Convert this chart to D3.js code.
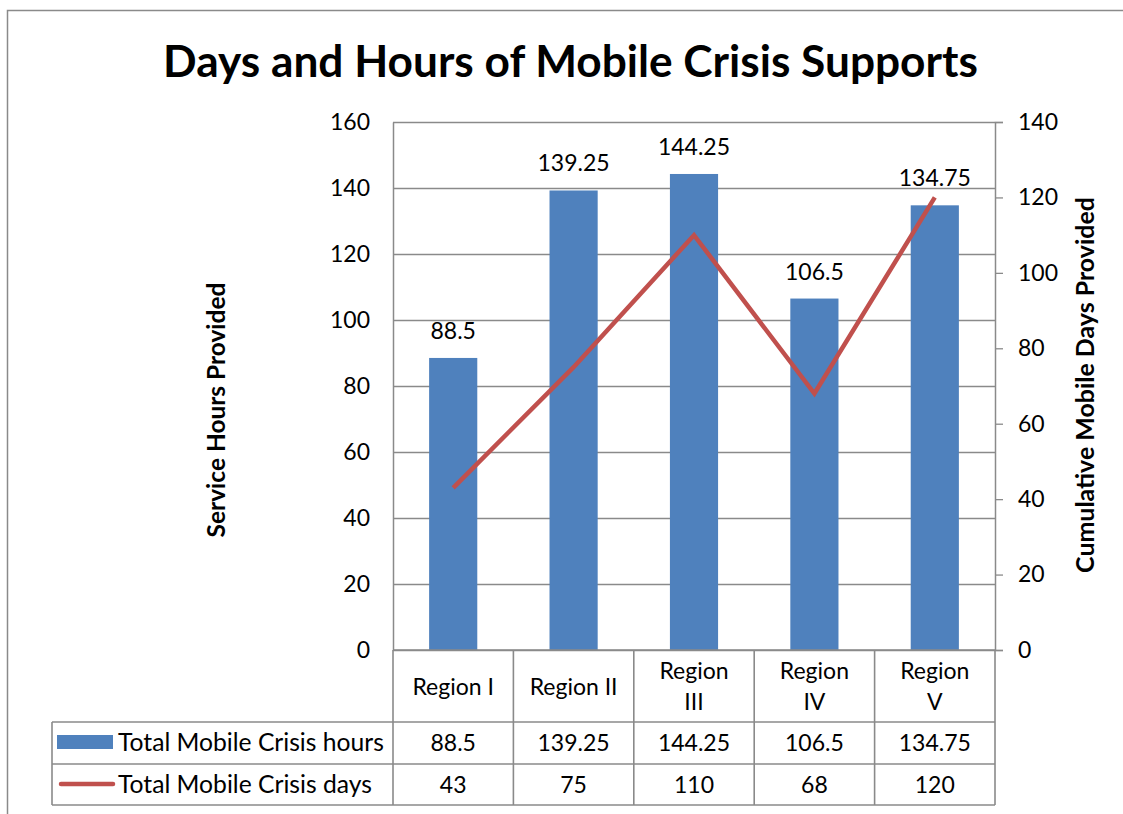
<!DOCTYPE html>
<html><head><meta charset="utf-8">
<script src="https://cdn.jsdelivr.net/npm/d3@7"></script>
<style>
html,body{margin:0;padding:0;background:#fff;}
svg{display:block;font-family:Lato, "Open Sans", sans-serif;}
</style></head>
<body>
<svg id="chart" width="1123" height="814"></svg>
<script>
const categories = ["Region I", "Region II", "Region III", "Region IV", "Region V"];
const hours = [88.5, 139.25, 144.25, 106.5, 134.75];
const days = [43, 75, 110, 68, 120];
const hoursTicks = [0, 20, 40, 60, 80, 100, 120, 140, 160];
const daysTicks = [0, 20, 40, 60, 80, 100, 120, 140];
const seriesNames = ["Total Mobile Crisis hours", "Total Mobile Crisis days"];
const title = "Days and Hours of Mobile Crisis Supports";
const yLeftTitle = "Service Hours Provided";
const yRightTitle = "Cumulative Mobile Days Provided";

const svg = d3.select("#chart");
const L = 393, R = 995, T = 122, B = 650;
const gridColor = "#8a8a8a";
const blue = "#4F81BD", red = "#C0504D";
const fs = 23;

function fit(sel, target) {
  sel.attr("font-size", 20);
  const len = sel.node().getComputedTextLength();
  sel.attr("font-size", 20 * target / len);
  return sel;
}

// outer border
svg.append("path").attr("d", "M7.5,814 V10.5 H1123").attr("fill", "none")
  .attr("stroke", gridColor).attr("stroke-width", 1.5);

const x = d3.scaleBand().domain(categories).range([L, R]).paddingInner(0.6).paddingOuter(0.3);
const xc = d => x(d) + x.bandwidth() / 2;
const step = x.step();
const yL = d3.scaleLinear().domain([0, 160]).range([B, T]);
const yR = d3.scaleLinear().domain([0, 140]).range([B, T]);

// gridlines
const grid = svg.append("g").attr("transform", `translate(${L},0)`)
  .call(d3.axisLeft(yL).tickValues(hoursTicks).tickSize(-(R - L)).tickFormat(""));
grid.select(".domain").remove();
grid.selectAll("line").attr("stroke", gridColor).attr("stroke-width", 1.3);

// bars
svg.append("g").selectAll("rect").data(hours).join("rect")
  .attr("x", (d, i) => x(categories[i]))
  .attr("width", x.bandwidth())
  .attr("y", d => yL(d))
  .attr("height", d => yL(0) - yL(d))
  .attr("fill", blue);

// bar labels
svg.append("g").selectAll("text").data(hours).join("text")
  .attr("x", (d, i) => xc(categories[i]))
  .attr("y", d => yL(d) - 19)
  .attr("text-anchor", "middle").attr("font-size", fs).attr("fill", "#000")
  .text(d => d);

// line
const line = d3.line().x((d, i) => xc(categories[i])).y(d => yR(d));
svg.append("path").datum(days).attr("d", line).attr("fill", "none")
  .attr("stroke", red).attr("stroke-width", 4.5).attr("stroke-linejoin", "miter");

// left axis
const ax = svg.append("g").attr("transform", `translate(${L},0)`)
  .call(d3.axisLeft(yL).tickValues(hoursTicks).tickSize(0).tickPadding(23));
ax.select(".domain").attr("stroke", gridColor).attr("stroke-width", 1.5);
ax.selectAll("text").attr("font-size", fs).attr("font-family", "Lato").attr("fill", "#000");

// right axis
const ar = svg.append("g").attr("transform", `translate(${R},0)`)
  .call(d3.axisRight(yR).tickValues(daysTicks).tickSize(8).tickPadding(15));
ar.select(".domain").attr("stroke", gridColor).attr("stroke-width", 1.5);
ar.selectAll("line").attr("stroke", gridColor).attr("stroke-width", 1.3);
ar.selectAll("text").attr("font-size", fs).attr("font-family", "Lato").attr("fill", "#000");

// title
fit(svg.append("text").attr("x", 570.5).attr("y", 77).attr("text-anchor", "middle")
  .attr("font-weight", "bold").text(title), 815);

// axis titles
fit(svg.append("text").attr("transform", "translate(225,410) rotate(-90)")
  .attr("text-anchor", "middle").attr("font-weight", "bold").text(yLeftTitle), 255);
fit(svg.append("text").attr("transform", "translate(1094,385) rotate(-90)")
  .attr("text-anchor", "middle").attr("font-weight", "bold").text(yRightTitle), 376);

// data table
const tbl = svg.append("g");
const tc = "#8a8a8a", tw = 1.6;
const rowY = [650, 722, 764, 805];
tbl.append("line").attr("x1", 52).attr("x2", R).attr("y1", rowY[1]).attr("y2", rowY[1]);
tbl.append("line").attr("x1", 52).attr("x2", R).attr("y1", rowY[2]).attr("y2", rowY[2]);
tbl.append("line").attr("x1", 52).attr("x2", R).attr("y1", rowY[3]).attr("y2", rowY[3]);
tbl.append("line").attr("x1", L).attr("x2", R).attr("y1", rowY[0]).attr("y2", rowY[0]);
tbl.append("line").attr("x1", 52).attr("x2", 52).attr("y1", rowY[1]).attr("y2", rowY[3]);
tbl.selectAll("line.v").data(categories).join("line").attr("class", "v")
  .attr("x1", d => x(d) - x.step() * x.paddingOuter()).attr("x2", d => x(d) - x.step() * x.paddingOuter())
  .attr("y1", rowY[0]).attr("y2", rowY[3]);
tbl.append("line").attr("x1", R).attr("x2", R).attr("y1", rowY[0]).attr("y2", rowY[3]);
tbl.selectAll("line").attr("stroke", tc).attr("stroke-width", tw);

// category labels (wrap when wider than the cell allows)
const catG = svg.append("g");
categories.forEach(c => {
  const t = catG.append("text").attr("x", xc(c)).attr("text-anchor", "middle")
    .attr("font-size", fs).text(c);
  const w = t.node().getComputedTextLength();
  if (w > step * 0.738) {
    const parts = c.split(" ");
    t.text(null);
    t.append("tspan").attr("x", xc(c)).attr("y", 679).text(parts[0]);
    t.append("tspan").attr("x", xc(c)).attr("y", 710).text(parts.slice(1).join(" "));
  } else {
    t.attr("y", 695);
  }
});

// table values
const rowsData = [hours, days];
const rowBase = [751, 793];
rowsData.forEach((arr, r) => {
  svg.append("g").selectAll("text").data(arr).join("text")
    .attr("x", (d, i) => xc(categories[i])).attr("y", rowBase[r])
    .attr("text-anchor", "middle").attr("font-size", fs).text(d => d);
  fit(svg.append("text").attr("x", 118).attr("y", rowBase[r]).text(seriesNames[r]),
      r === 0 ? 266 : 254);
});
// legend keys
svg.append("rect").attr("x", 57).attr("y", 735).attr("width", 56).attr("height", 14).attr("fill", blue);
svg.append("line").attr("x1", 61).attr("x2", 113).attr("y1", 784).attr("y2", 784)
  .attr("stroke", red).attr("stroke-width", 4.5).attr("stroke-linecap", "round");
</script>
</body></html>
